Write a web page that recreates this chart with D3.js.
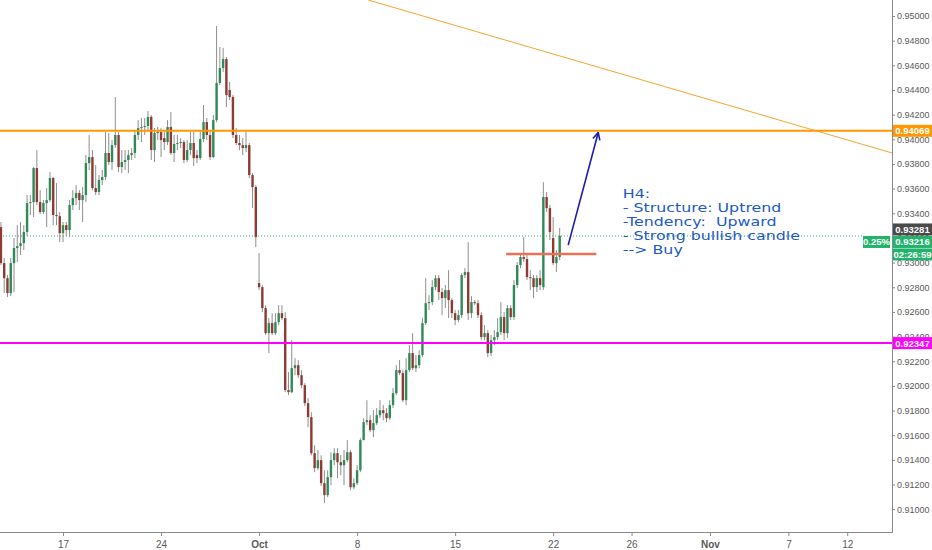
<!DOCTYPE html>
<html>
<head>
<meta charset="utf-8">
<script src="https://cdn.jsdelivr.net/npm/d3@7"></script>
<style>
  html, body { margin: 0; padding: 0; background: #fff; }
  svg { display: block; }
  .tick text { font-family: "Liberation Sans", Arial, sans-serif; }
</style>
</head>
<body>
<svg id="chart"></svg>
<script>
const width = 932;
const height = 550;

// H4 candles, one per bar
const opens = [
  0.93288,0.92996,0.92874,0.92753,0.92996,0.93118,0.93134,0.93158,0.93248,0.93483,
  0.93491,0.93767,0.93491,0.93410,0.93483,0.93507,0.93686,0.93386,0.93377,0.93239,
  0.93304,0.93264,0.93467,0.93523,0.93564,0.93507,0.93548,0.93807,0.93856,0.93605,
  0.93572,0.93670,0.93694,0.93889,0.93816,0.93953,0.94035,0.93775,0.93816,0.93832,
  0.93872,0.93889,0.94035,0.94091,0.94100,0.94108,0.94181,0.93913,0.94051,0.94059,
  0.94010,0.93978,0.94100,0.93889,0.93962,0.93970,0.93978,0.93832,0.93913,0.93970,
  0.93872,0.93848,0.94002,0.94140,0.94035,0.93856,0.94156,0.94457,0.94578,0.94651,
  0.94400,0.94343,0.94035,0.93970,0.93953,0.93929,0.93953,0.93710,0.93613,0.92834,
  0.92801,0.92631,0.92428,0.92509,0.92428,0.92517,0.92590,0.92550,0.91966,0.91949,
  0.92144,0.92168,0.92087,0.92006,0.91860,0.91747,0.91454,0.91333,0.91398,0.91211,
  0.91114,0.91260,0.91398,0.91454,0.91381,0.91357,0.91398,0.91462,0.91178,0.91211,
  0.91316,0.91560,0.91706,0.91722,0.91641,0.91698,0.91763,0.91803,0.91779,0.91738,
  0.91844,0.91941,0.92128,0.92104,0.91884,0.92128,0.92266,0.92144,0.92168,0.92250,
  0.92509,0.92671,0.92680,0.92801,0.92874,0.92761,0.92712,0.92777,0.92696,0.92590,
  0.92534,0.92574,0.92899,0.92923,0.92590,0.92680,0.92671,0.92574,0.92396,0.92428,
  0.92266,0.92371,0.92396,0.92436,0.92558,0.92428,0.92631,0.92558,0.92818,0.92980,
  0.93045,0.93029,0.92882,0.92874,0.92801,0.92874,0.92801,0.93532,0.93442,0.93199,
  0.92996,0.93045
];
const highs = [
  0.93329,0.93037,0.92899,0.93037,0.93199,0.93304,0.93329,0.93304,0.93548,0.93548,
  0.93775,0.93913,0.93588,0.93507,0.93605,0.93734,0.93694,0.93645,0.93410,0.93329,
  0.93329,0.93507,0.93588,0.93629,0.93588,0.93613,0.93872,0.94035,0.93913,0.93791,
  0.93710,0.93751,0.94059,0.94051,0.93994,0.94343,0.94059,0.93913,0.93913,0.93913,
  0.93929,0.94075,0.94156,0.94173,0.94173,0.94229,0.94197,0.94091,0.94100,0.94091,
  0.94059,0.94156,0.94221,0.94035,0.94035,0.94010,0.93994,0.93994,0.94059,0.94059,
  0.93913,0.94075,0.94278,0.94173,0.94075,0.94197,0.94919,0.94749,0.94741,0.94668,
  0.94465,0.94359,0.94091,0.94035,0.94010,0.94075,0.93970,0.93726,0.93629,0.93077,
  0.92818,0.92655,0.92550,0.92590,0.92590,0.92655,0.92655,0.92598,0.92112,0.92371,
  0.92225,0.92209,0.92128,0.92022,0.91901,0.91787,0.91519,0.91479,0.91438,0.91316,
  0.91316,0.91462,0.91495,0.91495,0.91438,0.91479,0.91560,0.91479,0.91251,0.91357,
  0.91576,0.91738,0.91884,0.91763,0.91803,0.91820,0.91884,0.91844,0.91820,0.91884,
  0.91982,0.92168,0.92209,0.92128,0.92225,0.92331,0.92428,0.92250,0.92290,0.92550,
  0.92874,0.92736,0.92858,0.92899,0.92899,0.92793,0.92818,0.92939,0.92712,0.92615,
  0.92615,0.92915,0.92955,0.93166,0.92728,0.92696,0.92696,0.92598,0.92493,0.92452,
  0.92412,0.92452,0.92550,0.92680,0.92598,0.92655,0.92655,0.92858,0.93004,0.93069,
  0.93207,0.93061,0.92939,0.92899,0.92899,0.92939,0.93653,0.93572,0.93467,0.93369,
  0.93102,0.93281
];
const lows = [
  0.92980,0.92753,0.92720,0.92728,0.92761,0.93004,0.93061,0.93102,0.93215,0.93386,
  0.93369,0.93467,0.93394,0.93394,0.93288,0.93491,0.93304,0.93304,0.93166,0.93166,
  0.93215,0.93207,0.93426,0.93467,0.93426,0.93329,0.93491,0.93751,0.93588,0.93548,
  0.93548,0.93629,0.93670,0.93791,0.93751,0.93929,0.93734,0.93726,0.93751,0.93726,
  0.93832,0.93848,0.93994,0.93978,0.94035,0.94059,0.93832,0.93816,0.93994,0.93856,
  0.93913,0.93953,0.93872,0.93816,0.93913,0.93929,0.93807,0.93816,0.93872,0.93783,
  0.93807,0.93832,0.93978,0.93994,0.93832,0.93848,0.94140,0.94440,0.94546,0.94262,
  0.94319,0.94010,0.93953,0.93913,0.93872,0.93897,0.93686,0.93442,0.93126,0.92777,
  0.92598,0.92412,0.92266,0.92412,0.92412,0.92493,0.92534,0.91949,0.91925,0.91941,
  0.92087,0.92063,0.91982,0.91836,0.91665,0.91438,0.91300,0.91316,0.91187,0.91049,
  0.91097,0.91195,0.91357,0.91251,0.91276,0.91195,0.91381,0.91154,0.91162,0.91195,
  0.91300,0.91560,0.91682,0.91625,0.91584,0.91682,0.91738,0.91722,0.91706,0.91722,
  0.91820,0.91925,0.92087,0.91868,0.91844,0.92112,0.92128,0.92112,0.92144,0.92233,
  0.92493,0.92615,0.92655,0.92777,0.92696,0.92574,0.92631,0.92550,0.92550,0.92493,
  0.92517,0.92550,0.92874,0.92534,0.92550,0.92655,0.92550,0.92371,0.92371,0.92233,
  0.92241,0.92331,0.92371,0.92412,0.92371,0.92388,0.92534,0.92534,0.92793,0.92955,
  0.93004,0.92858,0.92777,0.92712,0.92761,0.92777,0.92777,0.93410,0.93183,0.92980,
  0.92923,0.93020
];
const closes = [
  0.92996,0.92874,0.92753,0.92996,0.93118,0.93134,0.93158,0.93248,0.93483,0.93491,
  0.93767,0.93491,0.93410,0.93483,0.93507,0.93686,0.93386,0.93377,0.93239,0.93304,
  0.93264,0.93467,0.93523,0.93564,0.93507,0.93548,0.93807,0.93856,0.93605,0.93572,
  0.93670,0.93694,0.93889,0.93816,0.93953,0.94035,0.93775,0.93816,0.93832,0.93872,
  0.93889,0.94035,0.94091,0.94100,0.94108,0.94181,0.93913,0.94051,0.94059,0.93994,
  0.93978,0.94100,0.93889,0.93962,0.93970,0.93978,0.93832,0.93913,0.93970,0.93848,
  0.93848,0.94002,0.94140,0.94035,0.93856,0.94156,0.94457,0.94578,0.94651,0.94359,
  0.94343,0.94035,0.93970,0.93953,0.93929,0.93953,0.93710,0.93613,0.93207,0.92801,
  0.92631,0.92428,0.92509,0.92428,0.92517,0.92590,0.92550,0.91966,0.91949,0.92144,
  0.92168,0.92087,0.92006,0.91860,0.91747,0.91454,0.91333,0.91398,0.91211,0.91114,
  0.91260,0.91398,0.91454,0.91381,0.91357,0.91398,0.91462,0.91178,0.91211,0.91316,
  0.91560,0.91706,0.91722,0.91641,0.91698,0.91763,0.91803,0.91779,0.91738,0.91844,
  0.91941,0.92128,0.92104,0.91884,0.92128,0.92266,0.92144,0.92168,0.92250,0.92509,
  0.92671,0.92680,0.92801,0.92874,0.92761,0.92712,0.92777,0.92696,0.92590,0.92534,
  0.92574,0.92899,0.92923,0.92590,0.92680,0.92671,0.92574,0.92396,0.92428,0.92266,
  0.92371,0.92396,0.92436,0.92558,0.92428,0.92631,0.92558,0.92818,0.92980,0.93045,
  0.93029,0.92882,0.92874,0.92801,0.92874,0.92818,0.93532,0.93442,0.93248,0.92996,
  0.93045,0.93216
];

// date ticks: bar index where each label sits
const tickBars = [19, 49, 79, 109, 139, 169, 193, 217, 241, 259];
const tickLabels = ["17", "24", "Oct", "8", "15", "22", "26", "Nov", "7", "12"];
const monthLabels = ["Oct", "Nov"];

// drawings on the chart
const resistance = 0.94069;
const support = 0.92347;
const lastPrice = 0.93216;
const lastHigh = 0.93281;
const changePct = "0.25%";
const countdown = "02:26:59";
const trendLine = [[112.4, 0.95130], [272.7, 0.93889]];
const breakLevel = [[154.6, 0.93070], [182.2, 0.93070]];
const arrowPath = [[173.6, 0.93142], [182.8, 0.94055]];
const noteAnchor = [190.3, 0.93525];
const noteLines = ["H4:", "- Structure: Uptrend", "-Tendency:  Upward", "- Strong bullish candle", "--> Buy"];

const plotRight = 892;
const plotBottom = 532;

const svg = d3.select("#chart")
  .attr("width", width)
  .attr("height", height);

const xScale = d3.scaleLinear().domain([-0.285, 272.7]).range([0, plotRight]);
const yScale = d3.scaleLinear().domain([0.90815, 0.95130]).range([plotBottom, 0]);

const defs = svg.append("defs");
defs.append("clipPath").attr("id", "plot-clip")
  .append("rect").attr("x", 0).attr("y", 0).attr("width", plotRight).attr("height", plotBottom);

defs.append("marker")
  .attr("id", "arrowhead")
  .attr("viewBox", "0 0 10 10")
  .attr("refX", 9).attr("refY", 5)
  .attr("markerWidth", 9).attr("markerHeight", 9)
  .attr("markerUnits", "userSpaceOnUse")
  .attr("orient", "auto")
  .append("path")
  .attr("d", "M1,1 L9,5 L1,9")
  .attr("fill", "none")
  .attr("stroke", "#1c1cb0")
  .attr("stroke-width", 1.8);

// axes
const yAxis = d3.axisRight(yScale)
  .tickValues(d3.range(0, 21).map(k => 0.910 + k * 0.002))
  .tickFormat(d3.format(".5f"))
  .tickSize(3)
  .tickSizeOuter(0)
  .tickPadding(2);

const yAxisG = svg.append("g")
  .attr("transform", `translate(${plotRight},0)`)
  .call(yAxis);
yAxisG.select(".domain").attr("stroke", "#8a8a8a").attr("d", `M0.5,0V${plotBottom}`);
yAxisG.selectAll(".tick line").attr("stroke", "#8a8a8a");
yAxisG.selectAll(".tick text").attr("fill", "#5a5a5a").style("font-size", "9px");

const xAxis = d3.axisBottom(xScale)
  .tickValues(tickBars)
  .tickFormat((d, i) => tickLabels[i])
  .tickSize(4)
  .tickSizeOuter(0)
  .tickPadding(5);

const xAxisG = svg.append("g")
  .attr("transform", `translate(0,${plotBottom})`)
  .call(xAxis);
xAxisG.select(".domain").attr("stroke", "#8a8a8a").attr("d", `M0,0.5H${plotRight + 1}`);
xAxisG.selectAll(".tick line").attr("stroke", "#8a8a8a");
xAxisG.selectAll(".tick text")
  .attr("fill", "#5a5a5a")
  .style("font-size", "10px")
  .style("font-weight", (d, i) => monthLabels.includes(tickLabels[i]) ? "bold" : "normal");

const plot = svg.append("g").attr("clip-path", "url(#plot-clip)");

// trend line (thin orange, falling)
const line = d3.line().x(d => xScale(d[0])).y(d => yScale(d[1]));
plot.append("path")
  .attr("d", line(trendLine))
  .attr("fill", "none")
  .attr("stroke", "#f7a530")
  .attr("stroke-width", 1);

// current price dotted line
plot.append("line")
  .attr("x1", 0).attr("x2", 863)
  .attr("y1", yScale(lastPrice)).attr("y2", yScale(lastPrice))
  .attr("stroke", "#2cae6e")
  .attr("stroke-width", 1)
  .attr("stroke-dasharray", "1,2");

// candles
const candles = opens.map((o, i) => ({ i, o, h: highs[i], l: lows[i], c: closes[i] }));
const bodyW = 2.4;

plot.selectAll(".wick")
  .data(candles)
  .enter()
  .append("line")
  .attr("class", "wick")
  .attr("x1", d => xScale(d.i)).attr("x2", d => xScale(d.i))
  .attr("y1", d => yScale(d.h)).attr("y2", d => yScale(d.l))
  .attr("stroke", "#8e8e8e")
  .attr("stroke-width", 1);

plot.selectAll(".body")
  .data(candles)
  .enter()
  .append("rect")
  .attr("class", "body")
  .attr("x", d => xScale(d.i) - bodyW / 2)
  .attr("y", d => yScale(Math.max(d.o, d.c)))
  .attr("width", bodyW)
  .attr("height", d => Math.max(1, Math.abs(yScale(d.o) - yScale(d.c))))
  .attr("fill", d => d.c >= d.o ? "#2f8a58" : "#8f3a33");

// horizontal levels
plot.append("line")
  .attr("x1", 0).attr("x2", plotRight)
  .attr("y1", yScale(resistance)).attr("y2", yScale(resistance))
  .attr("stroke", "#ff9800").attr("stroke-width", 2);

plot.append("line")
  .attr("x1", 0).attr("x2", plotRight)
  .attr("y1", yScale(support)).attr("y2", yScale(support))
  .attr("stroke", "#ff00ff").attr("stroke-width", 2);

// breakout level
plot.append("path")
  .attr("d", line(breakLevel))
  .attr("stroke", "#e87158")
  .attr("stroke-width", 2.4);

// arrow
plot.append("path")
  .attr("d", line(arrowPath))
  .attr("fill", "none")
  .attr("stroke", "#1c1cb0")
  .attr("stroke-width", 1.6)
  .attr("marker-end", "url(#arrowhead)");

// note text - the screenshot is stretched sideways, so the text is too
const note = svg.append("text")
  .attr("transform", `translate(${xScale(noteAnchor[0])},${yScale(noteAnchor[1])}) scale(1.32,1)`)
  .attr("fill", "#2259c3")
  .style("font-family", "'DejaVu Sans', Verdana, sans-serif")
  .style("font-size", "12px")
  .style("white-space", "pre");
note.selectAll("tspan")
  .data(noteLines)
  .enter()
  .append("tspan")
  .attr("x", 0)
  .attr("dy", (d, i) => i === 0 ? 0 : 14.1)
  .text(d => d);

// price tags on the axis
function priceTag(x, cy, w, label, fill) {
  const g = svg.append("g");
  g.append("rect")
    .attr("x", x).attr("y", cy - 6)
    .attr("width", w).attr("height", 12)
    .attr("fill", fill);
  g.append("text")
    .attr("x", x + w / 2).attr("y", cy + 3.5)
    .attr("text-anchor", "middle")
    .attr("fill", "#fff")
    .style("font-family", "'Liberation Sans', Arial, sans-serif")
    .style("font-size", "9.5px")
    .style("font-weight", "bold")
    .text(label);
}

const fmt = d3.format(".5f");
priceTag(plotRight + 1, yScale(resistance), 39, fmt(resistance), "#ff9800");
priceTag(plotRight + 1, yScale(support), 39, fmt(support), "#ff00ff");
const darkY = yScale(lastHigh) + 1.5;
priceTag(plotRight + 1, darkY, 39, fmt(lastHigh), "#4a4a4a");
priceTag(plotRight + 1, darkY + 12.5, 39, fmt(lastPrice), "#22b36b");
priceTag(863, darkY + 12.5, 27, changePct, "#22b36b");
priceTag(plotRight + 1, darkY + 25, 39, countdown, "#22b36b");
</script>
</body>
</html>
